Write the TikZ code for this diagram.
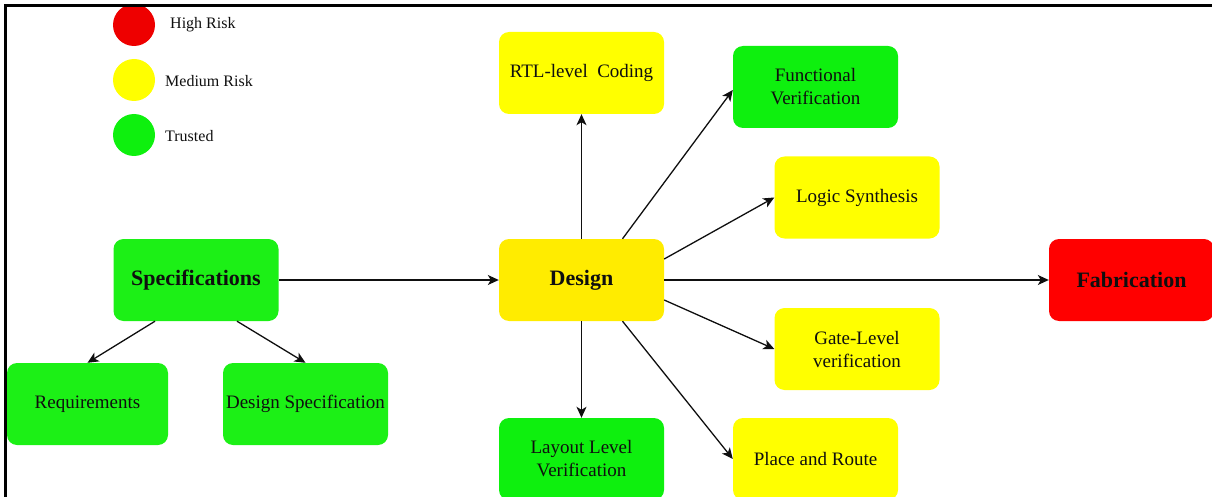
\documentclass[tikz,border=0pt]{standalone}
\usepackage{fontspec}
\setmainfont{Liberation Serif}
\usetikzlibrary{arrows.meta,calc}
\definecolor{trustA}{RGB}{28,240,22}
\definecolor{trustB}{RGB}{14,240,14}
\definecolor{medium}{RGB}{255,255,0}
\definecolor{mediumD}{RGB}{255,236,0}
\definecolor{high}{RGB}{255,0,0}
\definecolor{highL}{RGB}{238,0,0}
\definecolor{ink}{RGB}{15,15,15}
\begin{document}
\begin{tikzpicture}[x=1pt,y=-1pt,
  stage/.style={rounded corners=10pt, minimum width=165pt, minimum height=82pt,
    inner sep=2pt, align=center, text=ink, font=\fontsize{19}{23}\selectfont},
  keystage/.style={stage, font=\fontsize{22}{26}\selectfont\bfseries},
  legdot/.style={circle, minimum size=42pt, inner sep=0pt},
  legtext/.style={anchor=west, inner sep=0pt, text=ink, font=\fontsize{16}{19}\selectfont},
  arr/.style={draw=ink, line width=1.3pt, -{Stealth[length=11pt,width=10pt,inset=3pt]}}]
\useasboundingbox (0,0) rectangle (1212,497);
\clip (0,0) rectangle (1212,497);

% legend
\node[legdot, fill=highL] (lh) at (134,25) {};
\node[legdot, fill=medium] (lm) at (134,80) {};
\node[legdot, fill=trustB] (lt) at (134,135) {};
\node[legtext] (th) at (170,25) {High Risk};
\node[legtext] (tm) at (165,81) {Medium Risk};
\node[legtext] (tt) at (165,136) {Trusted};

% stages
\node[keystage, fill=trustA] (spec) at (196,280) {Specifications};
\node[stage, fill=trustA, minimum width=161pt] (req) at (87.5,404) {Requirements};
\node[stage, fill=trustA] (dspec) at (305.5,404) {Design Specification};
\node[keystage, fill=mediumD] (design) at (581.5,280) {Design};
\node[stage, fill=medium] (rtl) at (581.5,73) {RTL-level\ \ Coding};
\node[stage, fill=trustB] (func) at (815.5,87) {Functional\\Verification};
\node[stage, fill=medium] (logic) at (857,197.5) {Logic Synthesis};
\node[keystage, fill=high] (fab) at (1131.5,280) {Fabrication};
\node[stage, fill=medium] (gate) at (857,349) {Gate-Level\\verification};
\node[stage, fill=medium] (place) at (815.5,459) {Place and Route};
\node[stage, fill=trustB] (layout) at (581.5,459) {Layout Level\\Verification};

% connectors
\draw[arr] (spec.east) -- (design.west);
\draw[arr] ($(spec.south)+(-41,0)$) -- (req.north);
\draw[arr] ($(spec.south)+(41,0)$) -- (dspec.north);
\draw[arr] (design.north) -- (rtl.south);
\draw[arr] ($(design.north)+(41,0)$) -- ($(func.west)+(0,3)$);
\draw[arr] ($(design.east)+(0,-21)$) -- (logic.west);
\draw[arr] (design.east) -- (fab.west);
\draw[arr] ($(design.east)+(0,20)$) -- (gate.west);
\draw[arr] ($(design.south)+(41,0)$) -- (place.west);
\draw[arr] (design.south) -- (layout.north);

% frame
\draw[line width=2.5pt] (5.5,497) -- (5.5,5.5) -- (1212,5.5);
\end{tikzpicture}
\end{document}
